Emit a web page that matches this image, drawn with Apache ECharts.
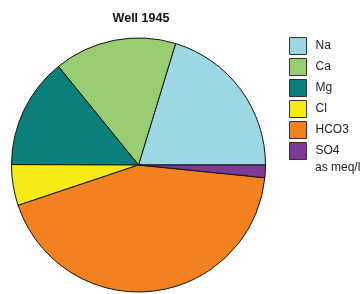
<!DOCTYPE html>
<html>
<head>
<meta charset="utf-8">
<script src="https://cdn.jsdelivr.net/npm/echarts@6/dist/echarts.min.js"></script>
<style>
  html, body { margin: 0; padding: 0; background: #fff; }
  #main { width: 360px; height: 294px; }
</style>
</head>
<body>
<div id="main"></div>
<script>
// ions, share of total meq/l
var ions   = ['Na', 'Ca', 'Mg', 'Cl', 'HCO3', 'SO4'];
var values = [20.3, 15.6, 14.1, 5.2, 43.3, 1.6];
var colors = ['#9cd8e4', '#99cd71', '#0b7f7a', '#f6eb17', '#f48120', '#7b3b94'];

var myChart = echarts.init(document.getElementById('main'));

var pieData = [];
for (var i = 0; i < ions.length; i++) {
    pieData.push({ name: ions[i], value: values[i], itemStyle: { color: colors[i] } });
}

var option = {
    animation: false,
    title: {
        text: 'Well 1945',
        left: 141,
        textAlign: 'center',
        top: 12,
        padding: 0,
        textStyle: { fontFamily: 'Liberation Sans', fontSize: 12.5, fontWeight: 'bold', color: '#111' }
    },
    legend: {
        orient: 'vertical',
        left: 289,
        top: 37,
        padding: 0,
        itemWidth: 17,
        itemHeight: 17,
        itemGap: 3,
        icon: 'rect',
        data: ions,
        itemStyle: { borderColor: '#333', borderWidth: 1 },
        textStyle: { fontFamily: 'Liberation Sans', fontSize: 12, color: '#222', padding: [0, 0, 0, 4] }
    },
    graphic: [{
        type: 'text',
        left: 315,
        top: 162,
        style: { text: 'as meq/l', font: '12px Liberation Sans', fill: '#222' }
    }],
    series: [{
        type: 'pie',
        center: [138.5, 165],
        radius: 127,
        startAngle: 0,
        clockwise: false,
        label: { show: false },
        labelLine: { show: false },
        emphasis: { disabled: true },
        itemStyle: { borderColor: '#111', borderWidth: 1 },
        data: pieData
    }]
};
myChart.setOption(option);
</script>
</body>
</html>
